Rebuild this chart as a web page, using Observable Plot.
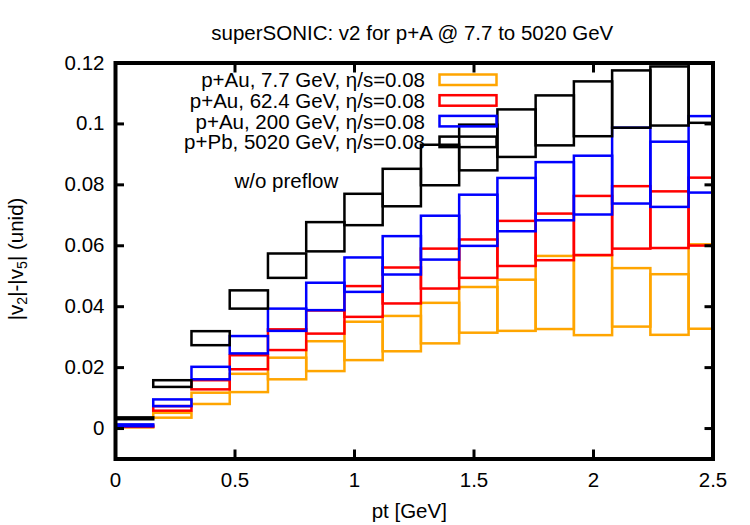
<!DOCTYPE html>
<html>
<head>
<meta charset="utf-8">
<script src="https://cdn.jsdelivr.net/npm/d3@7"></script>
<script src="https://cdn.jsdelivr.net/npm/@observablehq/plot@0.6"></script>
<style>
  html, body { margin: 0; padding: 0; background: #fff; }
  #chart { width: 750px; height: 525px; }
</style>
</head>
<body>
<div id="chart"></div>
<script>
// ---- data ----
const titleText = "superSONIC: v2 for p+A @ 7.7 to 5020 GeV";
const xLabel = "pt [GeV]";
const annotation = "w/o preflow";
const xTicks = [0, 0.5, 1, 1.5, 2, 2.5];
const yTicks = [0, 0.02, 0.04, 0.06, 0.08, 0.1, 0.12];

// pt bins (lower and upper edges, GeV)
const ptLow  = [0, 0.16, 0.32, 0.48, 0.64, 0.80, 0.96, 1.12, 1.28, 1.44, 1.60, 1.76, 1.92, 2.08, 2.24, 2.40];
const ptHigh = [0.16, 0.32, 0.48, 0.64, 0.80, 0.96, 1.12, 1.28, 1.44, 1.60, 1.76, 1.92, 2.08, 2.24, 2.40, 2.56];

const seriesNames = [
  "p+Au, 7.7 GeV, η/s=0.08",
  "p+Au, 62.4 GeV, η/s=0.08",
  "p+Au, 200 GeV, η/s=0.08",
  "p+Pb, 5020 GeV, η/s=0.08"
];
const seriesColors = ["#ffa500", "#ff0000", "#0000ff", "#000000"];

// band lower / upper values per pt bin
const lo7_7  = [0.0002, 0.0034, 0.0079, 0.0118, 0.0160, 0.0187, 0.0223, 0.0252, 0.0278, 0.0313, 0.0319, 0.0325, 0.0305, 0.0333, 0.0306, 0.0326];
const hi7_7  = [0.0005, 0.0050, 0.0116, 0.0178, 0.0231, 0.0285, 0.0349, 0.0368, 0.0411, 0.0463, 0.0487, 0.0565, 0.0567, 0.0525, 0.0505, 0.0603];
const lo62_4 = [0.0004, 0.0057, 0.0127, 0.0193, 0.0256, 0.0310, 0.0365, 0.0409, 0.0458, 0.0493, 0.0532, 0.0551, 0.0568, 0.0589, 0.0591, 0.0599];
const hi62_4 = [0.0008, 0.0072, 0.0157, 0.0239, 0.0324, 0.0386, 0.0466, 0.0527, 0.0589, 0.0619, 0.0680, 0.0704, 0.0762, 0.0794, 0.0777, 0.0822];
const lo200  = [0.0006, 0.0072, 0.0160, 0.0245, 0.0319, 0.0387, 0.0447, 0.0504, 0.0553, 0.0598, 0.0646, 0.0682, 0.0701, 0.0737, 0.0726, 0.0773];
const hi200  = [0.0012, 0.0094, 0.0201, 0.0302, 0.0392, 0.0477, 0.0560, 0.0630, 0.0697, 0.0766, 0.0821, 0.0873, 0.0894, 0.0986, 0.0940, 0.1024];
const lo5020 = [0.0029, 0.0135, 0.0272, 0.0392, 0.0493, 0.0580, 0.0666, 0.0728, 0.0797, 0.0846, 0.0890, 0.0928, 0.0958, 0.0986, 0.0993, 0.1002];
const hi5020 = [0.0035, 0.0157, 0.0318, 0.0452, 0.0573, 0.0676, 0.0769, 0.0851, 0.0930, 0.0996, 0.1046, 0.1092, 0.1138, 0.1174, 0.1187, 0.1250];

const lows  = [lo7_7, lo62_4, lo200, lo5020];
const highs = [hi7_7, hi62_4, hi200, hi5020];

// ---- build table ----
const rows = [];
seriesNames.forEach((name, k) => {
  ptLow.forEach((x, i) => {
    rows.push({series: name, x1: x, x2: ptHigh[i], y1: lows[k][i], y2: highs[k][i]});
  });
});

const FS = 20.5;
const FONT = "'Liberation Sans', Arial, Helvetica, sans-serif";

const svg = Plot.plot({
  width: 750,
  height: 525,
  marginLeft: 115,
  marginRight: 37.5,
  marginTop: 62.5,
  marginBottom: 66.5,
  style: {fontFamily: FONT, fontSize: FS + "px", color: "#000", background: "#fff", overflow: "visible"},
  x: {domain: [0, 2.5]},
  y: {domain: [-0.01, 0.12]},
  color: {domain: seriesNames, range: seriesColors},
  marks: [
    Plot.rect(rows, {x1: "x1", x2: "x2", y1: "y1", y2: "y2", stroke: "series", fill: "none", strokeWidth: 2.5, clip: true}),
    Plot.text([annotation], {x: [0.498], y: [0.081], text: d => d, textAnchor: "start", lineAnchor: "middle", fontSize: FS, fill: "#000"}),
    Plot.frame({stroke: "#000", strokeWidth: 4}),
    // inward ticks on all four sides
    Plot.axisX({anchor: "bottom", ticks: xTicks, tickSize: 9, dy: -9, strokeWidth: 3, tickFormat: () => "", label: null}),
    Plot.axisX({anchor: "top", ticks: xTicks, tickSize: 9, dy: 9, strokeWidth: 3, tickFormat: () => "", label: null}),
    Plot.axisY({anchor: "left", ticks: yTicks, tickSize: 9, dx: 9, strokeWidth: 3, tickFormat: () => "", label: null}),
    Plot.axisY({anchor: "right", ticks: yTicks, tickSize: 9, dx: -9, strokeWidth: 3, tickFormat: () => "", label: null}),
    // tick labels
    Plot.axisX({anchor: "bottom", ticks: xTicks, tickSize: 0, tickPadding: 13, tickFormat: d => String(d), label: null, fontSize: FS}),
    Plot.axisY({anchor: "left", ticks: yTicks, tickSize: 0, tickPadding: 11, tickFormat: d => String(d), label: null, fontSize: FS}),
    // title and x label
    Plot.text([titleText], {frameAnchor: "top", dy: -29.5, dx: -2, text: d => d, lineAnchor: "middle", fontSize: FS}),
    Plot.text([xLabel], {frameAnchor: "bottom", dy: 52, dx: -5, text: d => d, lineAnchor: "middle", fontSize: FS})
  ]
});

const s = d3.select(svg);

// y-axis label with subscripts
const yl = s.append("text")
  .attr("transform", "translate(17.5,259) rotate(-90)")
  .attr("text-anchor", "middle")
  .attr("dominant-baseline", "middle")
  .attr("font-family", FONT)
  .attr("font-size", FS)
  .attr("fill", "#000");
yl.append("tspan").text("|v");
yl.append("tspan").attr("font-size", FS * 0.7).attr("dy", 5).text("2");
yl.append("tspan").attr("dy", -5).text("|-|v");
yl.append("tspan").attr("font-size", FS * 0.7).attr("dy", 5).text("5");
yl.append("tspan").attr("dy", -5).text("| (unid)");

// legend (top, inside frame)
const lg = s.append("g").attr("font-family", FONT).attr("font-size", FS);
seriesNames.forEach((name, i) => {
  const cy = 79.8 + 20.7 * i;
  lg.append("text")
    .attr("x", 425).attr("y", cy)
    .attr("text-anchor", "end").attr("dominant-baseline", "central")
    .attr("fill", "#000").text(name);
  lg.append("rect")
    .attr("x", 439.5).attr("y", cy - 5.3)
    .attr("width", 57).attr("height", 10.5)
    .attr("fill", "none").attr("stroke", seriesColors[i]).attr("stroke-width", 2.5);
});

document.getElementById("chart").appendChild(svg);
</script>
</body>
</html>
